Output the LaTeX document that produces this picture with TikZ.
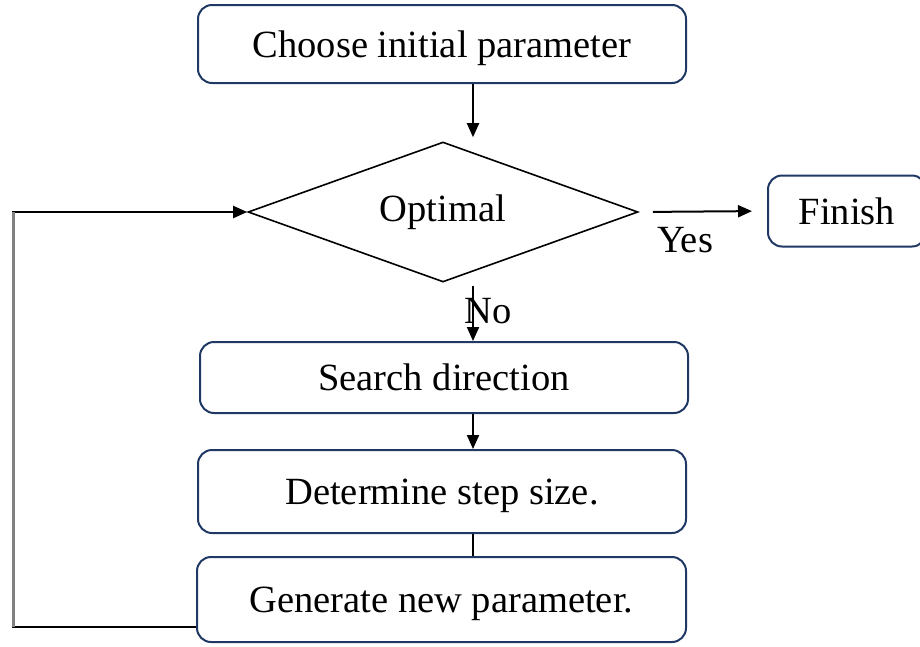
\documentclass[tikz,border=0pt]{standalone}
\usepackage{fontspec}
\setmainfont{Liberation Serif}
\usetikzlibrary{shapes.geometric,arrows.meta,calc}
\definecolor{navy}{RGB}{32,56,100}
\begin{document}
\begin{tikzpicture}[x=1pt,y=-1pt,
  txt/.style={font=\fontsize{38.5}{42}\selectfont},
  box/.style={draw=navy, line width=2pt, rounded corners=14pt, fill=white, inner sep=0pt, text height=30pt, text depth=4pt, txt},
  dia/.style={diamond, aspect=3, draw=black, line width=1.6pt, inner sep=0pt, txt},
  arr/.style={-{Triangle[length=14pt,width=12pt]}, line width=2pt},
  conn/.style={line width=2pt}]
\clip (0,0) rectangle (920,646);
\useasboundingbox (0,0) rectangle (920,646);
\node[box, minimum width=488pt, minimum height=78pt] (init) at (442,44) {Choose initial parameter};
\node[dia, minimum width=390pt, minimum height=140pt] (opt) at (443,212) {Optimal};
\node[box, minimum width=158pt, minimum height=71pt] (fin) at (847,211) {Finish};
\node[box, minimum width=488pt, minimum height=71pt] (search) at (444,377.5) {Search direction};
\node[box, minimum width=488pt, minimum height=83pt] (det) at (442,491.5) {Determine step size.};
\node[box, minimum width=489pt, minimum height=85pt] (gen) at (441.5,599.5) {Generate new parameter.};
\coordinate (col) at (473,0);
\coordinate (lp) at (13,212);
\draw[arr, shorten >=4pt] (init.south -| col) -- (opt.north -| col);
\draw[arr] ([yshift=-3pt]opt.south -| col) -- (search.north -| col);
\node[txt, anchor=base, inner sep=0pt] (no) at (488,323) {No};
\draw[arr, shorten <=14pt, shorten >=15pt] (opt.east) -- (fin.west);
\node[txt, anchor=base, inner sep=0pt] (yes) at (685,252) {Yes};
\draw[arr] (search.south -| col) -- (det.north -| col);
\draw[conn] (det.south -| col) -- (gen.north -| col);
\draw[arr] ([yshift=-27.5pt]gen.west) -| (lp) -- (opt.west);
\draw[line width=3pt, gray] (lp) -- (lp |- 0,627);
\end{tikzpicture}
\end{document}
